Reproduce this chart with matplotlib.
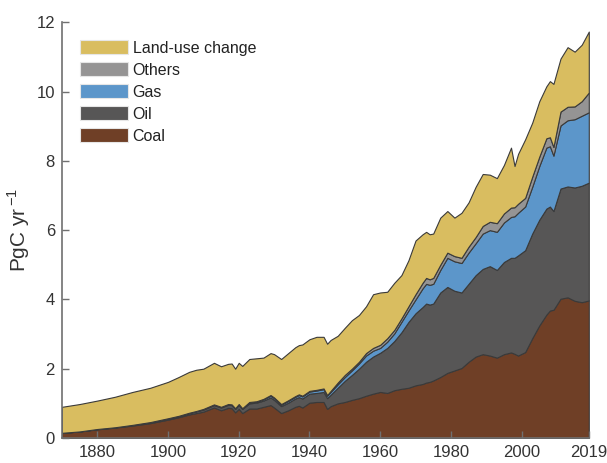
import numpy as np
import matplotlib
matplotlib.use("Agg")
import matplotlib.pyplot as plt
from matplotlib.patches import Patch

plt.rcParams['font.family'] = ['Liberation Sans', 'DejaVu Sans']

## Datos (PgC / año)
years = [1870, 1875, 1880, 1885, 1890, 1895, 1900, 1903, 1906, 1908,
         1910, 1913, 1915, 1917, 1918, 1919, 1920, 1921, 1923, 1925,
         1927, 1929, 1930, 1932, 1934, 1936, 1937, 1938, 1940, 1942,
         1944, 1945, 1946, 1948, 1950, 1952, 1954, 1956, 1958, 1960,
         1962, 1964, 1966, 1968, 1970, 1972, 1973, 1974, 1975, 1977,
         1979, 1981, 1983, 1985, 1987, 1989, 1991, 1993, 1995, 1997,
         1998, 1999, 2001, 2003, 2005, 2007, 2008, 2009, 2011, 2013,
         2015, 2017, 2019]

coal = [0.15, 0.19, 0.25, 0.30, 0.36, 0.43, 0.53, 0.60, 0.68, 0.72,
        0.76, 0.88, 0.80, 0.87, 0.86, 0.74, 0.84, 0.72, 0.85, 0.85,
        0.90, 0.95, 0.88, 0.72, 0.80, 0.90, 0.93, 0.88, 1.02, 1.04,
        1.04, 0.84, 0.92, 1.00, 1.04, 1.10, 1.15, 1.22, 1.28, 1.33,
        1.30, 1.38, 1.42, 1.45, 1.52, 1.56, 1.60, 1.62, 1.66, 1.76,
        1.88, 1.95, 2.02, 2.20, 2.35, 2.42, 2.38, 2.32, 2.42, 2.47,
        2.43, 2.38, 2.48, 2.88, 3.25, 3.56, 3.68, 3.70, 4.02, 4.06,
        3.96, 3.92, 3.97]

oil = [0.00, 0.00, 0.01, 0.01, 0.02, 0.02, 0.03, 0.03, 0.04, 0.05,
       0.06, 0.07, 0.08, 0.09, 0.09, 0.10, 0.12, 0.12, 0.15, 0.17,
       0.18, 0.22, 0.22, 0.20, 0.22, 0.24, 0.25, 0.26, 0.26, 0.26,
       0.29, 0.31, 0.33, 0.45, 0.61, 0.72, 0.85, 0.98, 1.07, 1.13,
       1.30, 1.42, 1.63, 1.90, 2.08, 2.22, 2.28, 2.23, 2.22, 2.44,
       2.48, 2.30, 2.18, 2.25, 2.35, 2.46, 2.58, 2.53, 2.66, 2.73,
       2.77, 2.89, 2.94, 3.02, 3.05, 3.06, 3.00, 2.85, 3.18, 3.20,
       3.27, 3.36, 3.40]

gas = [0.00, 0.00, 0.00, 0.00, 0.00, 0.01, 0.01, 0.01, 0.01, 0.01,
       0.02, 0.02, 0.02, 0.02, 0.02, 0.02, 0.02, 0.02, 0.03, 0.03,
       0.04, 0.05, 0.05, 0.04, 0.05, 0.05, 0.06, 0.06, 0.06, 0.07,
       0.08, 0.07, 0.08, 0.10, 0.11, 0.13, 0.15, 0.18, 0.17, 0.14,
       0.18, 0.22, 0.30, 0.33, 0.40, 0.54, 0.57, 0.57, 0.57, 0.65,
       0.84, 0.85, 0.85, 0.90, 0.92, 1.02, 1.04, 1.10, 1.14, 1.18,
       1.20, 1.23, 1.26, 1.35, 1.55, 1.76, 1.74, 1.60, 1.82, 1.91,
       1.97, 2.02, 2.03]

others = [0.00, 0.00, 0.00, 0.00, 0.00, 0.00, 0.00, 0.00, 0.00, 0.00,
          0.00, 0.00, 0.00, 0.00, 0.00, 0.00, 0.00, 0.00, 0.01, 0.01,
          0.01, 0.02, 0.02, 0.02, 0.02, 0.02, 0.02, 0.02, 0.02, 0.02,
          0.02, 0.02, 0.03, 0.05, 0.06, 0.05, 0.05, 0.07, 0.08, 0.09,
          0.10, 0.10, 0.10, 0.12, 0.15, 0.16, 0.17, 0.16, 0.17, 0.15,
          0.15, 0.15, 0.15, 0.17, 0.18, 0.22, 0.24, 0.25, 0.26, 0.27,
          0.26, 0.26, 0.25, 0.29, 0.27, 0.27, 0.26, 0.25, 0.40, 0.39,
          0.37, 0.42, 0.57]

land_use = [0.75, 0.79, 0.82, 0.88, 0.95, 0.99, 1.05, 1.12, 1.18, 1.19,
            1.16, 1.20, 1.17, 1.16, 1.18, 1.14, 1.19, 1.22, 1.24, 1.24,
            1.19, 1.21, 1.25, 1.30, 1.36, 1.41, 1.42, 1.48, 1.49, 1.53,
            1.49, 1.48, 1.47, 1.35, 1.36, 1.40, 1.35, 1.35, 1.55, 1.51,
            1.34, 1.36, 1.25, 1.33, 1.55, 1.40, 1.33, 1.30, 1.28, 1.36,
            1.20, 1.11, 1.30, 1.28, 1.45, 1.50, 1.36, 1.30, 1.40, 1.73,
            1.19, 1.44, 1.69, 1.56, 1.60, 1.50, 1.62, 1.82, 1.53, 1.72,
            1.58, 1.63, 1.76]

labels = ['Coal', 'Oil', 'Gas', 'Others', 'Land-use change']
colors = ['#6f3f26', '#575656', '#5c96ca', '#959494', '#d9bd60']

x_ticks = [1880, 1900, 1920, 1940, 1960, 1980, 2000, 2019]
y_ticks = [0, 2, 4, 6, 8, 10, 12]

## Figura
fig = plt.figure(figsize=(6.07, 4.63), dpi=100)
ax = fig.add_axes([0.102, 0.054, 0.868, 0.898])

ax.stackplot(years, coal, oil, gas, others, land_use, colors=colors,
             edgecolor='#3a3a3a', linewidth=0.8)

ax.set_xlim(1870, 2019)
ax.set_ylim(0, 12)
ax.set_xticks(x_ticks)
ax.set_yticks(y_ticks)
ax.tick_params(direction='in', length=5, width=1, color='#707070',
               labelcolor='#333333', labelsize=12, pad=5)
for s in ['top', 'right']:
    ax.spines[s].set_visible(False)
for s in ['left', 'bottom']:
    ax.spines[s].set_color('#707070')
    ax.spines[s].set_linewidth(1.2)

ax.set_ylabel('PgC yr$^{\\,\\mathregular{-1}}$', fontsize=15, color='#333333')
ax.yaxis.set_label_coords(-0.057, 0.5)

## Leyenda
handles = [Patch(facecolor=c, edgecolor='#e6e6e6', linewidth=0.8)
           for c in colors[::-1]]
ax.legend(handles, labels[::-1], loc='upper left', bbox_to_anchor=(0.034, 0.957),
          frameon=False, borderpad=0, borderaxespad=0, handlelength=3.0,
          handleheight=1.0, labelspacing=0.4, handletextpad=0.3, fontsize=11.5,
          labelcolor='#222222')

plt.savefig('out.png', dpi=100)
